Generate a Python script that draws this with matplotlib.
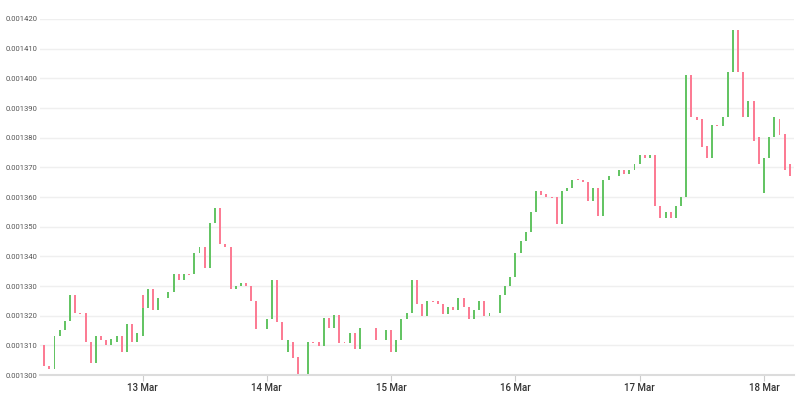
import numpy as np
import pandas as pd
import matplotlib
matplotlib.use("Agg")
import matplotlib.pyplot as plt
import matplotlib.dates as mdates

plt.rcParams["font.family"] = ["Roboto", "DejaVu Sans"]

# hourly candles from 12 Mar 05:00 to 18 Mar 05:00, prices in 1e-6 units
times = list(pd.date_range("2022-03-12 05:00", periods=145, freq="h"))
times.insert(20, times[19])  # two candles stamped 13 Mar 00:00

open_12 = [1310.1, 1303.0, 1302.0, 1313.2, 1315.1, 1318.1, 1327.1, 1321.0, 1320.9, 1311.0,
           1304.2, 1313.2, 1311.9, 1310.1, 1311.0, 1313.2, 1307.8, 1317.2, 1311.0]
close_12 = [1303.0, 1302.0, 1313.2, 1315.1, 1318.1, 1327.1, 1320.9, 1320.7, 1311.0, 1304.2,
            1313.2, 1311.9, 1310.1, 1312.1, 1313.2, 1307.8, 1317.2, 1311.0, 1314.1]

open_13 = [1313.2, 1327.0, 1322.7, 1329.0, 1321.8, 1326.1, 1325.9, 1328.1, 1334.0, 1332.0,
           1334.0, 1334.0, 1341.2, 1343.2, 1336.1, 1351.1, 1356.2, 1344.0, 1343.2, 1329.0,
           1330.1, 1331.0, 1329.9, 1325.0, 1315.6]
close_13 = [1327.0, 1322.7, 1329.0, 1321.8, 1326.1, 1326.1, 1328.1, 1334.0, 1332.0, 1334.0,
            1333.8, 1341.2, 1343.2, 1336.1, 1351.1, 1356.2, 1344.0, 1343.2, 1329.0, 1330.1,
            1331.0, 1329.9, 1325.0, 1315.6, 1315.4]

open_14 = [1315.5, 1319.0, 1332.0, 1318.0, 1307.9, 1311.1, 1306.1, 1300.3, 1300.0, 1311.1,
           1311.1, 1309.8, 1319.1, 1316.0, 1320.1, 1311.1, 1310.9, 1314.0, 1308.9, 1316.0,
           1316.0, 1316.0, 1311.9, 1311.8]
close_14 = [1319.0, 1332.0, 1318.0, 1311.8, 1311.8, 1305.8, 1300.0, 1300.0, 1311.1, 1310.9,
            1309.8, 1319.1, 1316.0, 1320.1, 1310.9, 1310.9, 1314.0, 1308.9, 1316.0, 1315.8,
            1315.8, 1311.8, 1311.7, 1315.1]

open_15 = [1315.1, 1307.8, 1311.9, 1319.0, 1320.9, 1331.9, 1323.8, 1319.8, 1324.9, 1324.9,
           1323.8, 1320.7, 1322.9, 1321.8, 1325.8, 1322.9, 1318.9, 1321.8, 1324.9, 1319.8,
           1320.9, 1320.9, 1326.9, 1329.9]
close_15 = [1307.8, 1311.9, 1319.0, 1320.9, 1331.9, 1323.8, 1319.8, 1324.9, 1324.7, 1323.8,
            1320.7, 1322.9, 1321.8, 1325.8, 1322.9, 1318.9, 1321.8, 1324.9, 1319.8, 1320.9,
            1320.9, 1326.9, 1329.9, 1333.0]

open_16 = [1333.0, 1341.1, 1345.3, 1348.1, 1355.1, 1362.0, 1361.1, 1360.0, 1359.9, 1350.9,
           1362.0, 1363.1, 1366.0, 1365.9, 1365.0, 1358.8, 1363.1, 1353.7, 1365.9, 1367.2,
           1367.1, 1369.0, 1367.9, 1369.0]
close_16 = [1341.1, 1345.3, 1348.1, 1355.1, 1362.0, 1360.8, 1359.9, 1359.8, 1350.9, 1362.0,
            1363.1, 1365.9, 1365.8, 1365.0, 1358.8, 1363.1, 1353.7, 1365.9, 1367.1, 1367.0,
            1369.0, 1367.9, 1369.0, 1371.0]

open_17 = [1371.0, 1374.1, 1373.0, 1374.1, 1357.0, 1353.0, 1355.0, 1353.0, 1357.0, 1360.0,
           1401.1, 1387.1, 1386.2, 1377.2, 1373.0, 1384.2, 1383.9, 1387.1, 1402.1, 1416.2,
           1402.2, 1386.9, 1392.2, 1380.1]
close_17 = [1374.1, 1373.0, 1374.1, 1357.0, 1353.0, 1355.0, 1353.0, 1357.0, 1360.0, 1401.1,
            1386.9, 1386.0, 1376.9, 1373.0, 1384.2, 1384.0, 1387.1, 1402.2, 1416.2, 1402.0,
            1386.9, 1392.2, 1379.0, 1371.1]

open_18 = [1361.2, 1373.0, 1380.1, 1386.2, 1381.1, 1371.1]
close_18 = [1373.0, 1380.1, 1387.1, 1380.9, 1369.0, 1367.0]

opens = np.array(open_12 + open_13 + open_14 + open_15 + open_16 + open_17 + open_18) * 1e-6
closes = np.array(close_12 + close_13 + close_14 + close_15 + close_16 + close_17 + close_18) * 1e-6

GREEN = "#64c464"
RED = "#fc7c94"

x = mdates.date2num(times)
colors = np.where(closes >= opens, GREEN, RED)

fig = plt.figure(figsize=(8, 3.95), dpi=100)
ax = fig.add_axes([0.05, 0.0506, 0.9425, 0.9013])

ax.bar(x, closes - opens, bottom=opens, width=0.016, color=colors, linewidth=0)

pad = 0.8 / 24
ax.set_xlim(x[0] - pad, x[-1] + pad)
ax.set_ylim(0.0013, 0.00142)

yticks = np.arange(1300, 1421, 10) * 1e-6
ax.set_yticks(yticks)
ax.set_yticklabels(["%.6f" % v for v in yticks])

ax.xaxis.set_major_locator(mdates.DayLocator())
ax.xaxis.set_major_formatter(mdates.DateFormatter("%d %b"))

ax.grid(axis="y", color="#efefef", linewidth=1)
ax.set_axisbelow(True)
for s in ["left", "top", "right"]:
    ax.spines[s].set_visible(False)
ax.spines["bottom"].set_color("#dcdcdc")
ax.spines["bottom"].set_linewidth(1.5)

ax.tick_params(axis="x", length=4, color="#cccccc", labelsize=7, labelcolor="#333333", pad=2)
ax.tick_params(axis="y", length=0, labelsize=5.5, labelcolor="#555555", pad=2)
for lbl in ax.get_xticklabels():
    lbl.set_fontweight("medium")

fig.savefig("out.png", dpi=100)
